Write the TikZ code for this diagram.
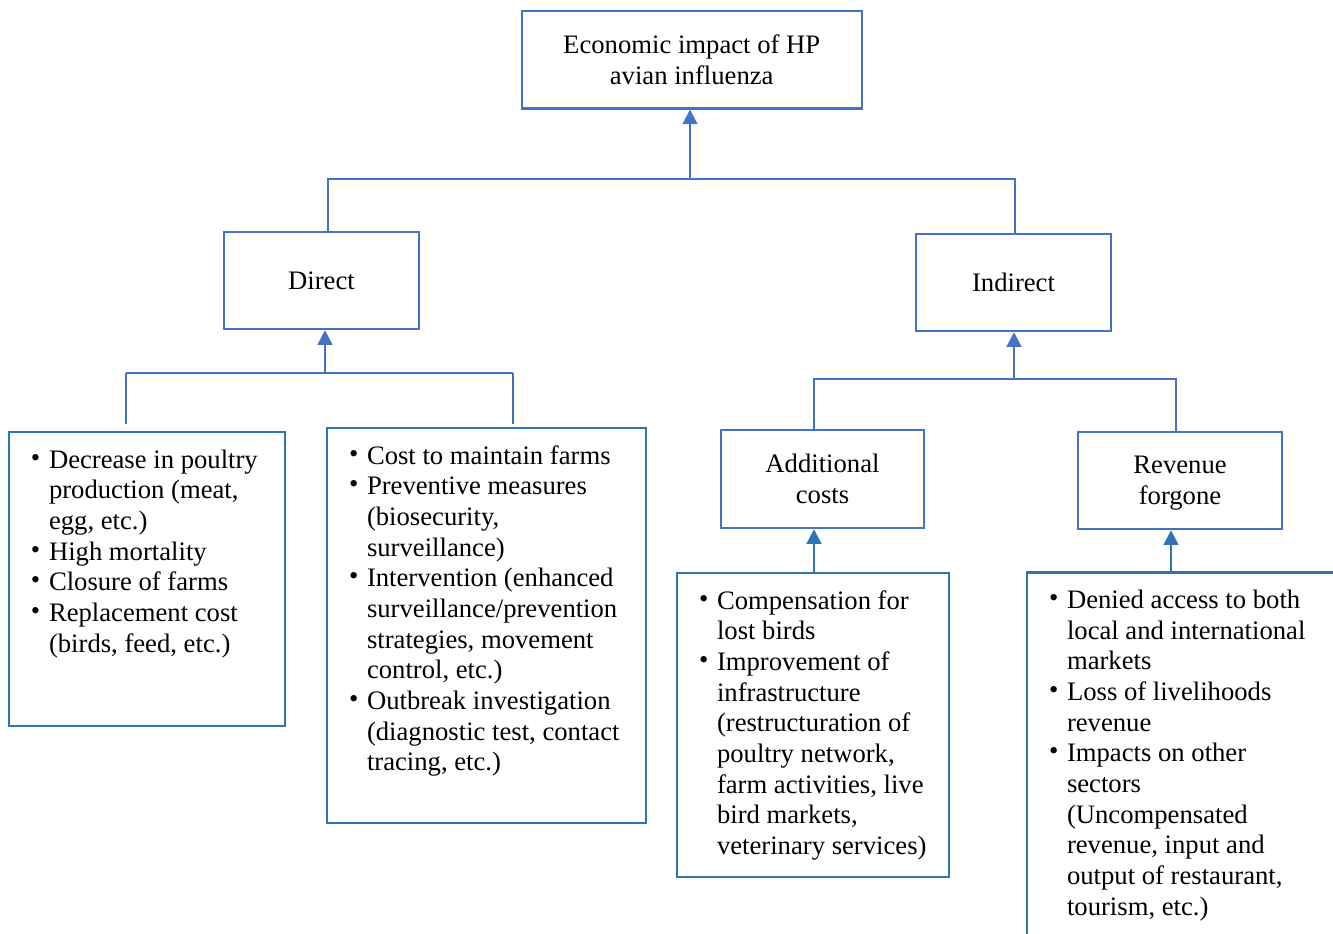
\documentclass[tikz,border=0pt]{standalone}
\usepackage{fontspec}
\setmainfont{Liberation Serif}
\usetikzlibrary{arrows.meta,positioning}
\definecolor{hdrblue}{HTML}{4472C4}
\definecolor{lstblue}{HTML}{2E75B6}
\newcommand{\bitem}{\par\noindent\hangindent=13.5pt\hangafter=1\makebox[13.5pt][l]{\raisebox{1.5pt}{\textbullet}}}
\newcommand{\listtext}[3]{\parbox[c][#2][t]{#1}{\leftskip=16.5pt #3}}

\begin{document}
\begin{tikzpicture}[
    x=0.75pt, y=-0.75pt,
    font=\fontsize{20}{23}\selectfont,
    hdr/.style={draw=hdrblue, line width=1.8pt, align=center, inner sep=0pt},
    lst/.style={draw=lstblue, line width=1.8pt, inner sep=0pt},
    link/.style={draw=hdrblue, line width=1.8pt},
    arrow/.style={link, -{Triangle[length=11pt, width=11pt]}},
    arrowb/.style={arrow, draw=lstblue, fill=lstblue}
  ]
    \useasboundingbox (0,0) rectangle (1333,933);
    \clip (0,0) rectangle (1333,933);

    \node[hdr, minimum width=255pt, minimum height=73.2pt] (top) at (691.7,59.5) {Economic impact of HP\\avian influenza};
    \node[hdr, minimum width=146.25pt, minimum height=72.75pt] (direct) at (321.5,280.5) {Direct};
    \node[hdr, minimum width=146.25pt, minimum height=72.75pt] (indirect) at (1013.5,282.5) {Indirect};
    \node[hdr, minimum width=152.25pt, minimum height=73.5pt] (addcost) at (822.5,479) {Additional\\costs};
    \node[hdr, minimum width=153pt, minimum height=72.75pt, text depth=0pt] (revenue) at (1180,480.5) {Revenue\\forgone};

    \node[lst] (prodlist) at (147,579) {\listtext{207pt}{220.5pt}{%
      \bitem\rule{0pt}{27pt}Decrease in poultry\\production (meat,\\egg, etc.)
      \bitem High mortality
      \bitem Closure of farms
      \bitem Replacement cost\\(birds, feed, etc.)}};
    \node[lst] (farmlist) at (486.5,625.5) {\listtext{239.25pt}{296.25pt}{%
      \bitem\rule{0pt}{27pt}Cost to maintain farms
      \bitem Preventive measures\\(biosecurity,\\surveillance)
      \bitem Intervention (enhanced\\surveillance/prevention\\strategies, movement\\control, etc.)
      \bitem Outbreak investigation\\(diagnostic test, contact\\tracing, etc.)}};
    \node[lst] (addlist) at (813,725) {\listtext{204pt}{228pt}{%
      \bitem\rule{0pt}{27pt}Compensation for\\lost birds
      \bitem Improvement of\\infrastructure\\(restructuration of\\poultry network,\\farm activities, live\\bird markets,\\veterinary services)}};
    \node[lst] (revlist) at (1188.5,761.5) {\listtext{242.25pt}{283.5pt}{%
      \bitem\rule{0pt}{27pt}Denied access to both\\local and international\\markets
      \bitem Loss of livelihoods\\revenue
      \bitem Impacts on other\\sectors\\(Uncompensated\\revenue, input and\\output of restaurant,\\tourism, etc.)}};

    \coordinate (tj) at (690,179);
    \coordinate (tl) at (328,179);
    \coordinate (tr) at (1015,179);
    \coordinate (dj) at (325,373);
    \coordinate (dl) at (126,373);
    \coordinate (dr) at (513,373);
    \coordinate (ij) at (1014,379);
    \coordinate (il) at (814,379);
    \coordinate (ir) at (1176,379);
    \coordinate (rj) at (1171,573);

    \draw[arrow] (tj) -- (top.south -| tj);
    \draw[link] (direct.north -| tl) -- (tl) -- (tr) -- (indirect.north -| tr);
    \draw[arrow] (dj) -- (direct.south -| dj);
    \draw[link] (dl) -- (dr);
    \draw[link, shorten >=5.25pt] (dl) -- (prodlist.north -| dl);
    \draw[link, shorten >=2.25pt] (dr) -- (farmlist.north -| dr);
    \draw[arrow] (ij) -- (indirect.south -| ij);
    \draw[link] (addcost.north -| il) -- (il) -- (ir) -- (revenue.north -| ir);
    \draw[arrowb] (addlist.north -| il) -- (addcost.south -| il);
    \draw[arrowb] (revlist.north -| rj) -- (revenue.south -| rj);
  \end{tikzpicture}
\end{document}
